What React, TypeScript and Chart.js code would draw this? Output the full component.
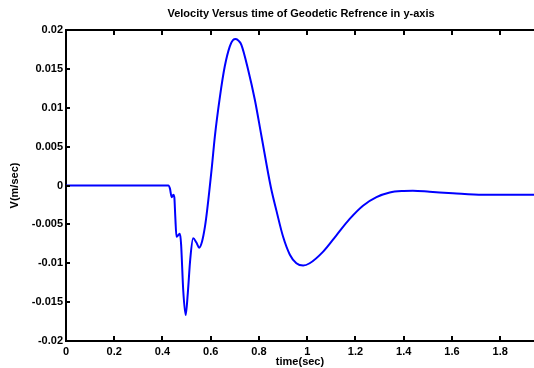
import React, { useEffect, useRef } from "react";
import { Chart, registerables } from "chart.js";

Chart.register(...registerables);

const TITLE = "Velocity Versus time of Geodetic Refrence in y-axis";
const X_LABEL = "time(sec)";
const Y_LABEL = "V(m/sec)";

const X_TICKS = [0, 0.2, 0.4, 0.6, 0.8, 1, 1.2, 1.4, 1.6, 1.8];
const Y_TICKS = [-0.02, -0.015, -0.01, -0.005, 0, 0.005, 0.01, 0.015, 0.02];

const TIME = [
  0, 0.1, 0.2, 0.3, 0.4, 0.424, 0.431, 0.438, 0.445, 0.449, 0.453, 0.458,
  0.465, 0.472, 0.477, 0.486, 0.496, 0.505, 0.515, 0.527, 0.54, 0.552, 0.564,
  0.576, 0.585, 0.605, 0.617, 0.638, 0.658, 0.679, 0.692, 0.704, 0.716,
  0.727, 0.755, 0.783, 0.81, 0.849, 0.872, 0.9, 0.928, 0.955, 0.983, 1.01,
  1.066, 1.121, 1.176, 1.231, 1.287, 1.342, 1.4, 1.438, 1.507, 1.604, 1.728,
  1.94,
];

const VELOCITY = [
  0, 0, 0, 0, 0, 0, -0.0004, -0.0015, -0.0012, -0.0015, -0.004, -0.0066,
  -0.0064, -0.0062, -0.0075, -0.0135, -0.01666, -0.0138, -0.0095, -0.0068,
  -0.0073, -0.008, -0.0072, -0.0053, -0.0032, 0.0025, 0.0063, 0.0114,
  0.0153, 0.0179, 0.0187, 0.01884, 0.0186, 0.0181, 0.0149, 0.011, 0.0064,
  -0.0002, -0.0032, -0.0066, -0.0089, -0.01, -0.0103, -0.01, -0.0085, -0.0064,
  -0.0043, -0.0026, -0.0015, -0.0009, -0.0007, -0.00067, -0.0008, -0.001,
  -0.0012, -0.0012,
];

const FONT = '"Liberation Sans", Arial, Helvetica, sans-serif';

const framePlugin = {
  id: "frame",
  afterDraw(chart: any) {
    const { ctx, chartArea: a, scales } = chart;
    ctx.save();
    ctx.strokeStyle = "#000";
    ctx.lineWidth = 2;
    ctx.beginPath();
    ctx.moveTo(a.left - 1, a.top);
    ctx.lineTo(a.right, a.top);
    for (const t of X_TICKS) {
      const px = Math.round(scales.x.getPixelForValue(t));
      ctx.moveTo(px, a.bottom);
      ctx.lineTo(px, a.bottom - 5);
      ctx.moveTo(px, a.top);
      ctx.lineTo(px, a.top + 5);
    }
    for (const v of Y_TICKS) {
      const py = Math.round(scales.y.getPixelForValue(v));
      ctx.moveTo(a.left, py);
      ctx.lineTo(a.left + 4, py);
    }
    ctx.stroke();
    ctx.fillStyle = "#000";
    ctx.font = `bold 11px ${FONT}`;
    ctx.textAlign = "center";
    ctx.textBaseline = "middle";
    ctx.fillText(TITLE, (a.left + a.right) / 2 + 1, 14);
    ctx.restore();
  },
};

export default function App() {
  const ref = useRef<HTMLCanvasElement>(null);
  useEffect(() => {
    if (!ref.current) return;
    const chart = new Chart(ref.current, {
      type: "line",
      data: {
        datasets: [
          {
            data: TIME.map((t, i) => ({ x: t, y: VELOCITY[i] })),
            borderColor: "#0000ff",
            borderWidth: 2,
            pointRadius: 0,
            cubicInterpolationMode: "monotone",
            fill: false,
          },
        ],
      },
      options: {
        responsive: false,
        animation: false,
        layout: { padding: { top: 30, left: 0, right: 0, bottom: 0 } },
        plugins: { legend: { display: false }, tooltip: { enabled: false }, title: { display: false } },
        scales: {
          x: {
            type: "linear",
            min: 0,
            max: 1.94,
            afterBuildTicks: (s: any) => {
              s.ticks = X_TICKS.map((v) => ({ value: v }));
            },
            afterFit: (s: any) => {
              s.height = 27;
            },
            grid: { display: false, drawTicks: false },
            border: { display: true, color: "#000", width: 2 },
            ticks: {
              color: "#000",
              font: { family: FONT, size: 11, weight: "bold" },
              padding: 4,
              maxRotation: 0,
              autoSkip: false,
              callback: (v: any) => String(Number(Number(v).toFixed(1))),
            },
            title: {
              display: true,
              text: X_LABEL,
              color: "#000",
              font: { family: FONT, size: 11, weight: "bold" },
              padding: { top: 0, bottom: -1 },
            },
          },
          y: {
            type: "linear",
            min: -0.02,
            max: 0.02,
            afterBuildTicks: (s: any) => {
              s.ticks = Y_TICKS.map((v) => ({ value: v }));
            },
            afterFit: (s: any) => {
              s.width = 66;
            },
            grid: { display: false, drawTicks: false },
            border: { display: true, color: "#000", width: 2 },
            ticks: {
              color: "#000",
              font: { family: FONT, size: 11, weight: "bold" },
              padding: 3,
              autoSkip: false,
              callback: (v: any) => String(Number(Number(v).toFixed(3))),
            },
            title: {
              display: true,
              text: Y_LABEL,
              color: "#000",
              font: { family: FONT, size: 11, weight: "bold" },
              padding: { top: 8, bottom: 0 },
            },
          },
        },
      },
      plugins: [framePlugin],
    });
    return () => chart.destroy();
  }, []);
  return (
    <div style={{ position: "fixed", left: 0, top: 0, width: 534, height: 368, background: "#fff" }}>
      <canvas ref={ref} width={534} height={368} />
    </div>
  );
}
